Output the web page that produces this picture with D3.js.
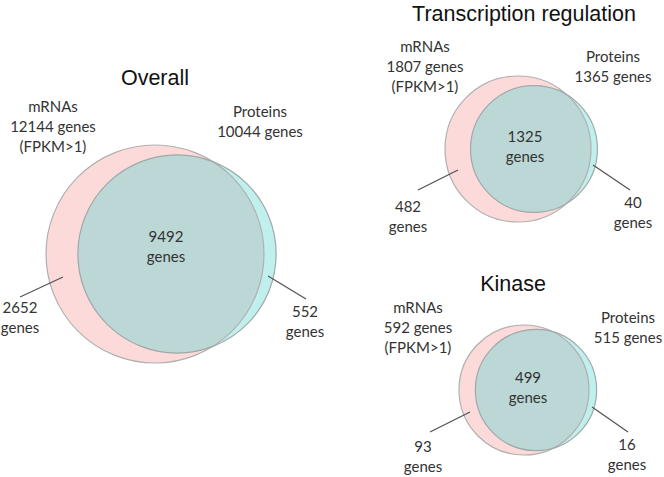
<!DOCTYPE html>
<html><head><meta charset="utf-8">
<script src="https://cdn.jsdelivr.net/npm/d3@7"></script>
<style>body{margin:0;background:#fff}svg{display:block}</style>
</head><body>
<svg id="c" width="664" height="477"></svg>
<script>
// ---- data ----
const panelTitles = ["Overall", "Transcription regulation", "Kinase"];
const mrnaTotals = [12144, 1807, 592];
const proteinTotals = [10044, 1365, 515];
const overlapCounts = [9492, 1325, 499];
const mrnaOnly = [2652, 482, 93];
const proteinOnly = [552, 40, 16];
const setNames = ["mRNAs", "Proteins"];
const mrnaNote = "(FPKM>1)";
const unit = "genes";

// ---- layout (per panel) ----
const layout = [
  {cx:155, cy:254, R:109, dx:22, title:[155,77],
   mrnaLbl:[53,107], protLbl:[260,112], center:[166,237],
   leftLbl:[20,308], rightLbl:[305,312],
   leftLine:[[20,297],[63,277]], rightLine:[[268,276],[306,299]]},
  {cx:518, cy:149, R:73, dx:16, title:[524,13],
   mrnaLbl:[425,47], protLbl:[613,57], center:[525,137],
   leftLbl:[408,207], rightLbl:[633,203],
   leftLine:[[418,190],[458,170]], rightLine:[[593,165],[630,190]]},
  {cx:524, cy:390, R:65, dx:12, title:[513,283],
   mrnaLbl:[418,308], protLbl:[628,318], center:[528,378],
   leftLbl:[423,447], rightLbl:[627,445],
   leftLine:[[430,432],[470,412]], rightLine:[[592,407],[628,432]]}
];

const svg = d3.select("#c");
const defs = svg.append("defs");
const lblFont = "Lato, Open Sans, sans-serif";
const titleFont = "Liberation Sans, Arial, sans-serif";

panelTitles.forEach((t, i) => {
  const L = layout[i];
  const r = d3.scaleSqrt().domain([0, mrnaTotals[i]]).range([0, L.R]);
  const rm = r(mrnaTotals[i]), rp = r(proteinTotals[i]);
  const pc = [L.cx + L.dx, L.cy];
  const g = svg.append("g");

  defs.append("clipPath").attr("id", "clip" + i)
    .append("circle").attr("cx", L.cx).attr("cy", L.cy).attr("r", rm);

  g.append("circle").attr("cx", L.cx).attr("cy", L.cy).attr("r", rm)
    .attr("fill", "#fcdada");
  g.append("circle").attr("cx", pc[0]).attr("cy", pc[1]).attr("r", rp)
    .attr("fill", "#bff0ee");
  g.append("circle").attr("cx", pc[0]).attr("cy", pc[1]).attr("r", rp)
    .attr("clip-path", "url(#clip" + i + ")").attr("fill", "#bcd8d6");
  g.append("circle").attr("cx", L.cx).attr("cy", L.cy).attr("r", rm)
    .attr("fill", "none").attr("stroke", "#b0b0b0").attr("stroke-width", 1.2);
  g.append("circle").attr("cx", pc[0]).attr("cy", pc[1]).attr("r", rp)
    .attr("fill", "none").attr("stroke", "#a0a8a8").attr("stroke-width", 1.2);

  // leader lines
  [L.leftLine, L.rightLine].forEach(ln => {
    g.append("line").attr("x1", ln[0][0]).attr("y1", ln[0][1])
      .attr("x2", ln[1][0]).attr("y2", ln[1][1])
      .attr("stroke", "#555").attr("stroke-width", 1.3);
  });

  // title
  g.append("text").attr("x", L.title[0]).attr("y", L.title[1]).attr("dy", "0.35em")
    .attr("text-anchor", "middle").attr("font-family", titleFont)
    .attr("font-size", 21.5).attr("fill", "#111").text(t);

  const block = (pos, lines) => {
    const tx = g.append("text").attr("text-anchor", "middle")
      .attr("font-family", lblFont).attr("font-size", 15).attr("fill", "#333");
    lines.forEach((s, k) => {
      tx.append("tspan").attr("x", pos[0]).attr("y", pos[1] + k * 20)
        .attr("dy", "0.35em").text(s);
    });
  };
  block(L.mrnaLbl, [setNames[0], mrnaTotals[i] + " " + unit, mrnaNote]);
  block(L.protLbl, [setNames[1], proteinTotals[i] + " " + unit]);
  block(L.center, [String(overlapCounts[i]), unit]);
  block(L.leftLbl, [String(mrnaOnly[i]), unit]);
  block(L.rightLbl, [String(proteinOnly[i]), unit]);
});
</script>
</body></html>
